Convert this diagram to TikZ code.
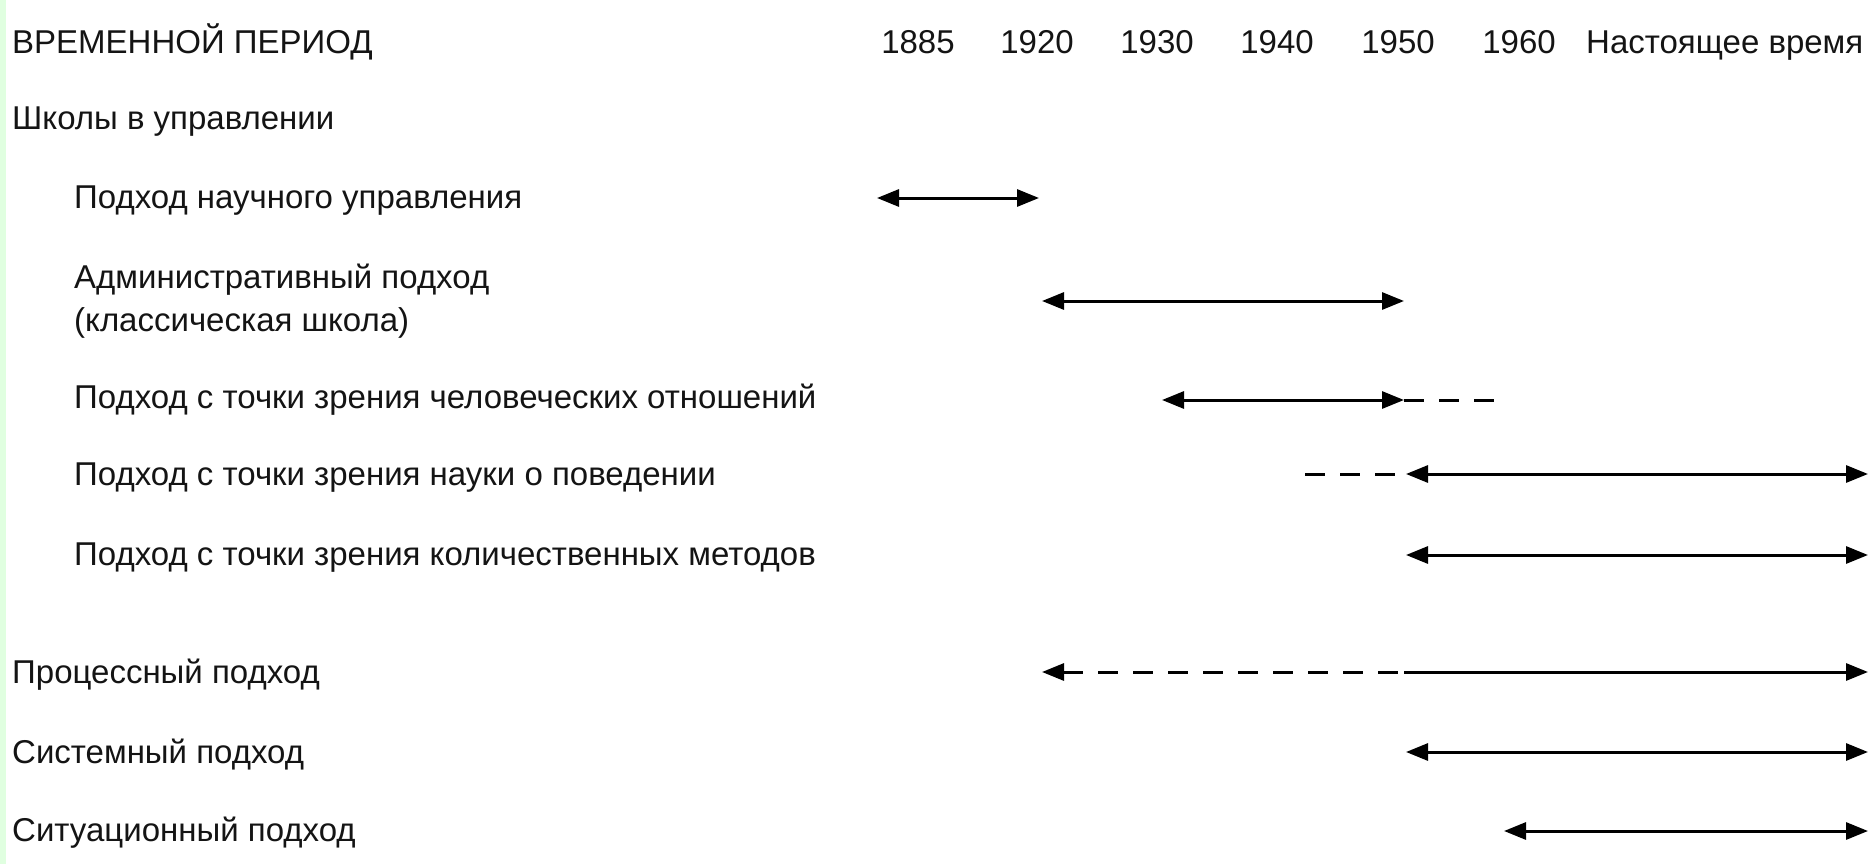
\documentclass[tikz,border=0pt]{standalone}
\usepackage{fontspec}
\setmainfont{Liberation Sans}
\usetikzlibrary{arrows.meta}
\definecolor{stripgreen}{RGB}{224,255,224}
\definecolor{inkgray}{RGB}{20,20,20}
\tikzset{
  lbl/.style={anchor=base west, inner sep=0pt, text=inkgray, font=\fontsize{33}{43}\selectfont},
  yr/.style={anchor=base, inner sep=0pt, text=inkgray, font=\fontsize{33}{43}\selectfont},
  span/.style={line width=3pt, draw=black, {Triangle[length=22pt,width=17pt]}-{Triangle[length=22pt,width=17pt]}},
  spanr/.style={line width=3pt, draw=black, -{Triangle[length=22pt,width=17pt]}},
  dashl/.style={line width=3pt, draw=black, dash pattern=on 20pt off 15pt, {Triangle[length=22pt,width=17pt]}-},
  dashline/.style={line width=3pt, draw=black, dash pattern=on 20pt off 15pt}
}
\begin{document}
\begin{tikzpicture}[x=1pt,y=-1pt]
\useasboundingbox (0,0) rectangle (1872,864);
\fill[white] (0,0) rectangle (1872,864);
\fill[stripgreen] (0,0) rectangle (6,864);

% header
\node[lbl] (head) at (12,54) {ВРЕМЕННОЙ ПЕРИОД};
\node[yr] (y1885) at (918,54) {1885};
\node[yr] (y1920) at (1037,54) {1920};
\node[yr] (y1930) at (1157,54) {1930};
\node[yr] (y1940) at (1277,54) {1940};
\node[yr] (y1950) at (1398,54) {1950};
\node[yr] (y1960) at (1519,54) {1960};
\node[lbl] (ynow) at (1586,54) {Настоящее время};

% labels
\node[lbl] (schools) at (12,130) {Школы в управлении};
\node[lbl] (sci) at (74,208.5) {Подход научного управления};
\node[lbl, align=left, anchor=west] (adm) at (74,301) {Административный подход\\(классическая школа)};
\node[lbl] (hum) at (74,408) {Подход с точки зрения человеческих отношений};
\node[lbl] (beh) at (74,485) {Подход с точки зрения науки о поведении};
\node[lbl] (quant) at (74,565) {Подход с точки зрения количественных методов};
\node[lbl] (proc) at (12,683) {Процессный подход};
\node[lbl] (sys) at (12,763) {Системный подход};
\node[lbl] (sit) at (12,841) {Ситуационный подход};

% arrow end points
\coordinate (a1) at (877,198);  \coordinate (b1) at (1039,198);
\coordinate (a2) at (1042,301); \coordinate (b2) at (1404,301);
\coordinate (a3) at (1162,400); \coordinate (b3) at (1404,400); \coordinate (c3) at (1498,400);
\coordinate (d4) at (1305,474); \coordinate (e4) at (1396,474);
\coordinate (a4) at (1406,474); \coordinate (b4) at (1868,474);
\coordinate (a5) at (1406,555); \coordinate (b5) at (1868,555);
\coordinate (a6) at (1042,672); \coordinate (m6) at (1404,672); \coordinate (b6) at (1868,672);
\coordinate (a7) at (1406,752); \coordinate (b7) at (1868,752);
\coordinate (a8) at (1504,831); \coordinate (b8) at (1868,831);

\draw[span] (a1) -- (b1);
\draw[span] (a2) -- (b2);
\draw[span] (a3) -- (b3);
\draw[dashline] (b3) -- (c3);
\draw[dashline] (d4) -- (e4);
\draw[span] (a4) -- (b4);
\draw[span] (a5) -- (b5);
\draw[dashl] (a6) -- (m6);
\draw[spanr] (m6) -- (b6);
\draw[span] (a7) -- (b7);
\draw[span] (a8) -- (b8);
\end{tikzpicture}
\end{document}
